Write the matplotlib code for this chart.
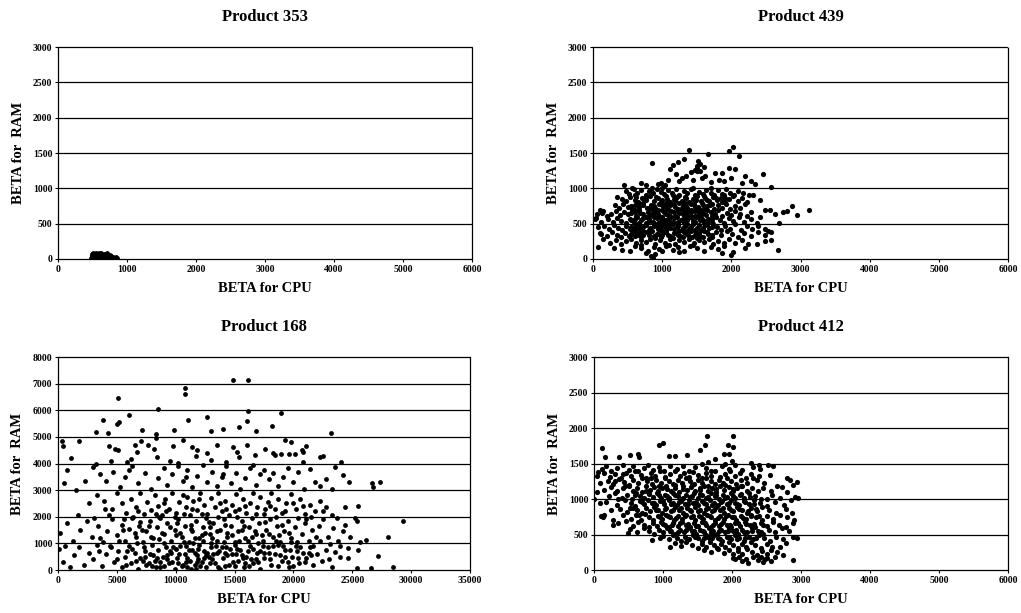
import matplotlib.pyplot as plt
from matplotlib.ticker import MultipleLocator

plt.rcParams['font.family'] = ['Liberation Serif', 'DejaVu Serif']

# points (BETA for CPU, BETA for RAM)
p353_pts = [(480,20),(490,60),(500,40),(510,80),(520,10),(530,55),(540,30),(550,85),(560,15),
            (570,65),(580,40),(590,75),(600,20),(610,50),(620,85),(630,30),(640,60),(650,10),
            (660,75),(670,45),(680,20),(690,65),(700,35),(710,80),(720,15),(730,50),(740,25),
            (750,60),(760,10),(770,40),(780,20),(800,35),(820,15),(840,25),(860,10),(500,70),
            (560,50),(620,45),(680,55),(600,90),(540,70)]

p439_pts = [
    (452,1050),(560,1010),(760,1045),(940,1062),(1040,1050),(1110,1270),(1160,1330),(1200,1200),
    (1235,1378),(1280,1150),(1320,1415),(1390,1540),(1410,1230),(1450,1120),(1500,1310),(1520,1380),
    (1550,1240),(1580,1150),(1620,1170),(1660,1485),(1700,1090),(1760,1215),(1860,1215),(1900,1100),
    (1960,1285),(1970,1530),(2030,1590),(2055,1270),(2105,1460),(2200,1180),(2290,1110),(2340,1060),
    (2460,1200),(2580,1020),(860,1365),(1080,1120),(1350,1180),(1470,1260),(1600,1300),(1820,1120),
    (2000,1150),(2150,1080),(1240,1100),(980,1080),(700,1080),(1540,1350),(1510,1290),(1500,1250),
    (470,960),(520,920),(590,990),(640,940),(700,975),(760,905),(810,965),(870,930),(920,990),
    (980,945),(1030,915),(1090,975),(1140,935),(1200,995),(1250,910),(1310,960),(1360,930),
    (1420,985),(1480,905),(1530,955),(1590,925),(1640,980),(1700,940),(1750,900),(1810,970),
    (1860,920),(1920,985),(1980,940),(2040,905),(2100,960),(2170,930),(2250,910),(2320,900),
    (600,905),(1000,1000),(1450,1000),(1900,900),(1160,900),(1700,1000),(850,1000),
    (420,850),(480,820),(540,880),(600,840),(650,810),(710,870),(770,830),(830,890),(880,815),
    (940,860),(1000,830),(1060,885),(1110,810),(1170,850),(1230,890),(1280,825),(1340,865),
    (1390,805),(1450,850),(1510,890),(1560,820),(1620,860),(1680,815),(1730,880),(1790,835),
    (1850,870),(1910,810),(1970,855),(2030,890),(2090,820),(2160,860),(2230,800),(2420,840),
    (350,880),(1300,800),(1200,870),(990,805),(760,880),(1600,895),(1860,800),
    (320,760),(380,720),(440,780),(500,740),(560,705),(610,770),(670,735),(730,790),(780,715),
    (840,760),(900,725),(950,785),(1010,745),(1070,710),(1120,770),(1180,730),(1240,790),
    (1290,715),(1350,755),(1410,700),(1460,775),(1520,735),(1580,790),(1630,720),(1690,765),
    (1750,705),(1800,760),(1860,725),(1920,780),(1980,710),(2050,755),(2120,720),(2200,775),
    (2490,700),(2560,700),(2740,665),(2810,686),(2870,747),(3120,700),(150,686),(100,700),
    (130,650),(1050,790),(1550,700),(860,705),(1330,790),
    (260,640),(330,680),(390,620),(450,665),(510,630),(570,690),(620,615),(680,655),(740,605),
    (790,670),(850,630),(910,690),(960,615),(1020,660),(1080,625),(1130,685),(1190,610),
    (1250,650),(1300,695),(1360,625),(1420,670),(1470,605),(1530,645),(1590,690),(1640,620),
    (1700,665),(1760,630),(1810,690),(1870,610),(1930,655),(1990,625),(2060,680),(2130,640),
    (2220,610),(2290,660),(2630,630),(2950,616),(60,640),(200,610),(1100,700),(1560,600),
    (880,680),(1330,610),
    (220,560),(290,520),(350,580),(410,540),(470,510),(530,570),(590,530),(640,590),(700,545),
    (760,505),(810,565),(870,525),(930,585),(980,540),(1040,505),(1100,570),(1150,530),
    (1210,590),(1270,545),(1320,510),(1380,575),(1440,535),(1490,595),(1550,550),(1610,510),
    (1660,570),(1720,530),(1780,590),(1840,550),(1900,515),(1960,575),(2030,540),(2110,590),
    (2190,520),(2280,560),(2370,510),(2420,590),(30,560),(40,584),(120,520),(2690,504),
    (1000,600),(1230,500),(760,600),(1650,520),
    (160,460),(230,420),(300,480),(360,440),(420,405),(480,470),(540,430),(600,490),(650,445),
    (710,410),(770,475),(820,435),(880,495),(940,450),(990,415),(1050,480),(1110,440),
    (1160,500),(1220,455),(1280,415),(1330,470),(1390,430),(1450,490),(1500,445),(1560,410),
    (1620,475),(1670,435),(1730,495),(1790,450),(1850,410),(1910,470),(1980,430),(2060,490),
    (2140,410),(2220,460),(2300,420),(2390,470),(2480,430),(2530,400),(100,374),(70,450),
    (1020,500),(1360,400),(600,400),
    (120,360),(200,320),(270,380),(340,340),(400,305),(460,370),(520,330),(580,390),(630,345),
    (690,310),(750,375),(810,335),(860,395),(920,350),(980,315),(1040,380),(1090,340),
    (1150,300),(1210,365),(1260,325),(1320,385),(1380,345),(1430,305),(1490,370),(1550,330),
    (1600,390),(1660,350),(1720,310),(1780,375),(1850,335),(1930,395),(2010,350),(2100,310),
    (2190,370),(2280,330),(2390,385),(2490,340),(2580,383),(1000,400),(700,400),(1250,395),
    (150,280),(240,230),(330,270),(410,210),(480,260),(550,290),(620,225),(690,275),(760,240),
    (830,290),(900,215),(970,265),(1040,230),(1110,280),(1180,215),(1250,265),(1320,240),
    (1390,290),(1460,220),(1530,270),(1600,235),(1670,285),(1740,210),(1810,260),(1890,230),
    (1970,280),(2060,220),(2160,265),(2240,210),(2370,210),(2490,257),(2580,266),(1100,200),
    (700,200),(1500,300),(900,300),
    (77,163),(300,160),(420,130),(535,107),(600,180),(700,150),(800,120),(880,175),(950,140),
    (1050,190),(1150,130),(1230,170),(1320,110),(1400,180),(1500,150),(1600,120),(1700,170),
    (1800,140),(1900,190),(2030,93),(1860,79),(2200,150),(2680,126),(1000,110),(1450,200),
    (1250,100),(896,70),(872,14),(840,40),(2000,60),(760,90),
    (545,755),(605,700),(665,790),(725,760),(815,720),(875,745),(935,700),(995,770),(1055,735),
    (1115,795),(1175,760),(1235,705),(1295,750),(1355,720),(1415,780),(1475,740),(1535,710),
    (1595,760),(1655,745),(1715,785),
    (545,655),(605,660),(665,690),(725,640),(815,610),(875,650),(935,635),(995,695),(1055,640),
    (1115,615),(1175,660),(1235,690),(1295,635),(1355,665),(1415,615),(1475,680),(1535,620),
    (1595,655),(1655,690),(1715,610),
    (545,545),(605,560),(665,515),(725,580),(815,535),(875,590),(935,515),(995,560),(1055,545),
    (1115,510),(1175,585),(1235,525),(1295,560),(1355,545),(1415,595),(1475,520),(1535,580),
    (1595,545),(1655,505),(1715,565),
    (545,455),(605,440),(665,480),(725,455),(815,410),(875,465),(935,420),(995,470),(1055,445),
    (1115,490),(1175,425),(1235,470),(1295,440),(1355,495),(1415,455),(1475,415),(1535,475),
    (1595,440),(1655,490),(1715,455),
    (545,355),(605,330),(665,370),(725,345),(815,385),(875,320),(935,360),(995,340),(1055,395),
    (1115,325),(1175,370),(1235,345),(1295,305),(1355,360),(1415,390),(1475,335),(1535,365),
    (1595,315),(1655,380),(1715,340),
    (625,880),(745,850),(905,875),(1065,845),(1185,815),(1325,880),(1485,840),(1645,835),
    (1775,860),(1915,860)]

p168_pts = [
    (14830,7125),(16160,7125),(10780,6850),(10780,6600),(5065,6475),(8460,6040),(6030,5840),
    (3850,5650),(4980,5500),(5180,5560),(3200,5190),(4270,5160),(7160,5250),(8290,5100),
    (8290,4960),(9880,5250),(11010,5650),(12680,5750),(13000,5225),(14040,5290),(15370,5375),
    (16020,5590),(16160,5960),(16780,5225),(18915,5910),(18150,5400),(23160,5160),
    (370,4840),(450,4660),(1780,4840),(1100,4190),(4360,4660),(4840,4560),(5120,4500),(4500,4090),
    (6540,4690),(7050,4840),(6680,4440),(5830,4060),(6200,4160),(7620,4690),(8180,4560),
    (8380,4250),(9790,4660),(10640,4875),(11350,4625),(11780,4525),(12620,4400),(13470,4710),
    (14890,4625),(15170,4440),(16020,4690),(16730,4310),(15370,4250),(19280,4875),(19770,4790),
    (17580,4560),(18240,4410),(18430,4310),(18920,4340),(19650,4360),(20140,4375),(20700,4525),
    (21070,4660),(20840,4440),(22260,4250),(22540,4275),(24010,4040),(20840,4060),(3200,4000),
    (9500,4100),(13000,4150),(10200,4020),(11700,4300),(14300,4050),
    (735,3750),(540,3250),(2290,3340),(3000,3880),(3600,3600),(4100,3350),(4700,3700),
    (5300,3100),(5700,3500),(6300,3900),(6800,3250),(7400,3650),(7900,3050),(8500,3450),
    (9000,3850),(9300,3200),(9700,3600),(10200,3900),(10600,3350),(11000,3750),(11400,3100),
    (11800,3550),(12300,3950),(12700,3300),(13100,3700),(13500,3150),(13900,3500),(14300,3900),
    (14700,3250),(15100,3650),(15500,3050),(15900,3450),(16300,3850),(16800,3200),(17200,3600),
    (17500,3750),(17900,3400),(18300,3650),(18700,3150),(19100,3500),(19500,3850),(20000,3300),
    (20400,3700),(20900,3050),(21400,3810),(21800,3300),(22300,3150),(22800,3400),(23530,3875),
    (24240,3560),(23300,3050),(24700,3300),(26650,3275),(26730,3125),(27350,3310),(1500,3000),
    (6000,3750),(10900,3500),(14000,3600),(16600,3950),
    (1700,2050),(2600,2500),(3300,2800),(3900,2600),(4600,2300),(5000,2900),(5400,2500),
    (5800,2150),(6200,2650),(6600,2350),(7000,2900),(7300,2100),(7600,2550),(7900,2250),
    (8200,2800),(8500,2400),(8800,2050),(9100,2650),(9400,2300),(9700,2900),(10000,2150),
    (10300,2550),(10600,2800),(10900,2350),(11200,2050),(11500,2600),(11800,2250),(12100,2900),
    (12400,2450),(12700,2100),(13000,2700),(13300,2350),(13600,2900),(13900,2200),(14200,2600),
    (14500,2050),(14800,2450),(15100,2850),(15400,2300),(15700,2650),(16000,2150),(16300,2500),
    (16600,2900),(16900,2350),(17200,2750),(17500,2100),(17800,2550),(18100,2900),(18400,2300),
    (18700,2650),(19000,2150),(19400,2500),(19800,2850),(20200,2300),(20600,2650),(21000,2100),
    (21400,2450),(21800,2200),(22300,2600),(22800,2350),(23300,2050),(23670,1940),(24380,2375),
    (25510,2410),(6400,2000),(9000,2500),(12000,2650),(15000,2200),(18000,2400),(4300,2050),
    (11000,2750),(13800,2500),
    (200,1400),(800,1750),(1300,1100),(1900,1500),(2500,1850),(2900,1250),(3400,1650),
    (3800,1050),(4200,1450),(4600,1900),(5000,1300),(5400,1700),(5700,1100),(6000,1550),
    (6300,1950),(6600,1250),(6900,1650),(7200,1050),(7500,1450),(7800,1850),(8100,1200),
    (8400,1600),(8700,1950),(9000,1350),(9300,1750),(9600,1100),(9900,1500),(10200,1900),
    (10500,1250),(10800,1650),(11100,1050),(11400,1450),(11700,1850),(12000,1200),(12300,1600),
    (12600,1950),(12900,1350),(13200,1750),(13500,1100),(13800,1500),(14100,1900),(14400,1250),
    (14700,1650),(15000,1050),(15300,1450),(15600,1850),(15900,1200),(16200,1600),(16500,1950),
    (16800,1350),(17100,1750),(17400,1100),(17700,1500),(18000,1900),(18300,1250),(18600,1650),
    (18900,1050),(19200,1450),(19500,1850),(19800,1200),(20100,1600),(20400,1950),(20700,1350),
    (21000,1750),(21300,1100),(21600,1500),(21900,1250),(22200,1650),(22500,1900),(22970,1250),
    (23390,1560),(23800,1100),(24200,1450),(24800,1250),(25230,1940),(25380,1850),(26160,1125),
    (25650,1060),(28060,1250),(29280,1840),(3100,1950),(7000,1800),(10000,1300),(12500,1400),
    (14200,1700),(16700,1450),(19000,1700),(5500,1500),(8800,1400),(11600,1200),(17300,1300),
    (20300,1050),
    (100,800),(400,300),(600,900),(1000,100),(1400,550),(1800,850),(2200,200),(2600,650),
    (3000,400),(3300,950),(3700,150),(4100,600),(4500,850),(4800,300),(5100,700),(5400,100),
    (5700,500),(6000,900),(6200,250),(6500,650),(6800,50),(7000,450),(7300,850),(7500,200),
    (7800,600),(8000,950),(8200,350),(8500,750),(8700,100),(8900,500),(9200,850),(9400,250),
    (9600,650),(9900,50),(10100,450),(10400,900),(10600,200),(10800,600),(11000,100),(11200,350),
    (11400,750),(11600,200),(11800,550),(12000,950),(12200,300),(12400,700),(12600,100),
    (12800,500),(13000,850),(13300,250),(13500,650),(13800,50),(14000,450),(14300,850),
    (14500,200),(14800,600),(15000,950),(15300,350),(15500,750),(15800,100),(16000,500),
    (16300,900),(16600,250),(16900,650),(17200,50),(17500,450),(17800,850),(18100,200),
    (18400,600),(18700,950),(19000,350),(19300,750),(19600,100),(19900,500),(20200,900),
    (20500,250),(20800,650),(21100,450),(21400,850),(21700,200),(22000,600),(22400,350),
    (22800,750),(23110,960),(23530,690),(23960,500),(24670,810),(24670,440),(23250,125),
    (25510,750),(27220,525),(28490,125),(26600,60),(25380,60),(9000,150),(10900,300),
    (11300,50),(12100,150),(13100,400),(14200,150),(15900,250),(8300,100),(9700,300),
    (11900,400),(6300,800),(16600,800),(18900,550),(20000,150),(3500,700),(7700,250),
    (6700,1000),(7400,700),(8100,550),(8600,1150),(9300,400),(9800,850),(10300,600),(10700,1050),
    (11100,750),(11500,1000),(11900,800),(12300,1100),(12700,650),(13100,1200),(13400,900),
    (13700,700),(14100,1050),(14600,800),(15100,600),(15400,1100),(15700,450),(16100,1100),
    (16800,400),(17400,900),(17900,650),(18500,1100),(19100,900),(19700,750),(20600,850),
    (21300,650),(7100,1500),(8600,2000),(10100,1750),(11300,1700),(12800,1800),(14400,1400),
    (15800,1650),(17600,1800),(19600,1400),(21100,1900),(9500,700),(10500,150),(11700,50),
    (12900,250),(13600,100),(14900,300),(16200,150),(17000,300),
    (3600,1200),(4400,900),(5200,1100),(5900,700),(6500,1400),(7200,350),(7900,1250),(8400,450),
    (9000,1000),(9500,1600),(10000,800),(10400,1400),(10900,900),(11300,1550),(11800,300),
    (12200,1300),(12600,550),(13000,1000),(13500,1450),(13900,850),(14400,550),(14800,1300),
    (15200,800),(15600,1500),(16100,700),(16500,1250),(17000,1000),(17500,650),(17900,1350),
    (18300,900),(18800,1300),(19300,500),(19800,1050),(20300,700),(21000,300),(21700,900),
    (22300,1100),(23000,400),(24000,900),(24400,1700),
    (4000,2300),(5600,1900),(6800,2200),(7700,1650),(8300,2100),(9200,2200),(9900,2000),
    (10700,2100),(11400,2300),(12200,2100),(12900,1600),(13600,2000),(14300,2300),(15200,2000),
    (15900,2400),(16800,2100),(17600,2300),(18500,2000),(19300,2200),(20000,2500),(20800,2400),
    (21500,2000),(22500,2200),
    (5000,400),(5800,200),(6600,350),(7400,500),(8000,150),(8700,300),(9300,550),(10200,250),
    (11000,450),(11600,650),(12400,450),(13200,600),(14200,650),(15000,150),(15600,550),
    (16400,400),(17200,700),(18000,400),(18700,150),(19500,300),(20400,450),(21500,550)]

p412_pts = [
    (111,1712),(159,1595),(367,1585),(522,1627),(633,1641),(657,1595),(947,1759),(1005,1792),
    (1087,1604),(1174,1604),(1343,1618),(1536,1688),(1609,1759),(1633,1885),(1888,1641),
    (1946,1759),(2010,1885),(2010,1735),(1960,1641),
    (60,1380),(110,1420),(180,1460),(250,1400),(330,1440),(420,1480),(500,1410),(560,1460),
    (640,1390),(720,1440),(780,1480),(860,1410),(940,1450),(1020,1400),(1100,1470),(1200,1420),
    (1290,1460),(1380,1400),(1470,1450),(1560,1490),(1620,1430),(1700,1400),(1850,1460),
    (1960,1420),(2050,1480),(2150,1410),(2300,1450),(2400,1420),(2600,1470),(1650,1520),
    (1750,1560),(1900,1500),(2000,1540),(2275,1510),(2396,1477),(2517,1477),
    (40,1330),(140,1360),(230,1310),(300,1350),(390,1300),(470,1370),(540,1320),(600,1390),
    (680,1340),(750,1300),(820,1370),(890,1330),(960,1390),(1030,1310),(1100,1350),(1170,1390),
    (1240,1320),(1300,1360),(1370,1310),(1430,1380),(1500,1340),(1560,1300),(1620,1370),
    (1690,1330),(1760,1390),(1830,1310),(1900,1350),(1970,1390),(2040,1320),(2110,1360),
    (2200,1300),(2280,1350),(2390,1320),(2550,1340),(2840,1266),(2790,1290),
    (90,1220),(200,1260),(280,1210),(360,1280),(440,1240),(510,1200),(570,1270),(640,1230),
    (700,1290),(770,1250),(840,1210),(900,1270),(970,1230),(1030,1290),(1090,1250),(1150,1210),
    (1210,1270),(1270,1230),(1330,1290),(1390,1250),(1450,1210),(1510,1270),(1570,1230),
    (1630,1290),(1690,1250),(1750,1210),(1810,1270),(1870,1230),(1930,1290),(1990,1250),
    (2060,1210),(2130,1270),(2210,1230),(2300,1290),(2360,1266),(2470,1220),(2720,1172),
    (2890,1196),(2940,1243),
    (150,1130),(250,1170),(330,1110),(420,1150),(500,1190),(560,1120),(620,1160),(690,1100),
    (750,1180),(810,1130),(870,1170),(930,1110),(990,1150),(1050,1190),(1110,1120),(1170,1160),
    (1230,1100),(1290,1180),(1350,1130),(1410,1170),(1470,1110),(1530,1150),(1590,1190),
    (1650,1120),(1710,1160),(1770,1100),(1830,1180),(1890,1130),(1950,1170),(2010,1110),
    (2070,1150),(2140,1190),(2210,1120),(2290,1160),(2370,1110),(2450,1150),(2560,1120),
    (2650,1180),(2800,1100),(40,1102),
    (0,1000),(210,1040),(300,1080),(400,1020),(480,1060),(550,1000),(610,1090),(670,1040),
    (730,1010),(790,1070),(850,1030),(910,1090),(970,1010),(1030,1060),(1090,1020),(1150,1080),
    (1210,1040),(1270,1000),(1330,1060),(1390,1030),(1450,1090),(1510,1010),(1570,1060),
    (1630,1020),(1690,1080),(1750,1040),(1810,1000),(1870,1060),(1930,1030),(1990,1090),
    (2050,1010),(2110,1060),(2180,1020),(2250,1080),(2330,1040),(2420,1000),(2500,994),
    (2580,1060),(2700,1020),(2910,1032),(2960,1010),
    (90,938),(180,960),(340,920),(450,980),(530,940),(600,900),(660,970),(720,930),(780,990),
    (840,950),(900,910),(960,970),(1020,930),(1080,990),(1140,950),(1200,910),(1260,970),
    (1320,930),(1380,990),(1440,950),(1500,910),(1560,970),(1620,930),(1680,990),(1740,950),
    (1800,910),(1860,970),(1920,930),(1980,990),(2040,950),(2100,910),(2170,970),(2240,930),
    (2320,990),(2410,940),(2500,900),(2620,960),(2750,920),(2850,980),
    (140,780),(240,850),(380,860),(480,820),(560,880),(630,840),(690,800),(750,870),(810,830),
    (870,890),(930,850),(990,810),(1050,870),(1110,830),(1170,890),(1230,850),(1290,810),
    (1350,870),(1410,830),(1470,890),(1530,850),(1590,810),(1650,870),(1710,830),(1770,890),
    (1830,850),(1890,810),(1950,870),(2010,830),(2070,890),(2140,850),(2210,810),(2280,870),
    (2360,830),(2440,890),(2530,850),(2640,810),(2780,860),(2870,800),
    (100,760),(280,700),(420,780),(540,720),(610,770),(680,710),(740,790),(800,740),(860,700),
    (920,760),(980,720),(1040,780),(1100,740),(1160,700),(1220,760),(1280,720),(1340,780),
    (1400,740),(1460,700),(1520,760),(1580,720),(1640,780),(1700,740),(1760,700),(1820,760),
    (1880,720),(1940,780),(2000,740),(2060,700),(2130,760),(2200,720),(2270,780),(2350,740),
    (2430,700),(2510,760),(2600,720),(2700,780),(2800,740),(2900,700),(135,750),
    (280,633),(350,660),(460,690),(560,620),(640,680),(720,640),(790,600),(850,660),(910,620),
    (970,680),(1030,640),(1090,600),(1150,660),(1210,620),(1270,680),(1330,640),(1390,600),
    (1450,660),(1510,620),(1570,680),(1630,640),(1690,600),(1750,660),(1810,620),(1870,680),
    (1930,640),(1990,600),(2050,660),(2120,620),(2190,680),(2260,640),(2340,600),(2420,660),
    (2500,620),(2590,680),(2680,640),(2780,600),(2880,660),
    (497,516),(520,580),(620,540),(720,590),(800,550),(870,510),(940,570),(1000,530),(1060,590),
    (1120,550),(1180,510),(1240,570),(1300,530),(1360,590),(1420,550),(1480,510),(1540,570),
    (1600,530),(1660,590),(1720,550),(1780,510),(1840,570),(1900,530),(1960,590),(2020,550),
    (2080,510),(2150,570),(2220,530),(2290,590),(2370,550),(2450,510),(2530,570),(2620,530),
    (2720,590),(2820,550),(1620,500),(1680,480),
    (836,422),(957,446),(1000,480),(1080,430),(1140,490),(1200,450),(1260,410),(1320,470),
    (1380,430),(1440,490),(1500,450),(1560,410),(1620,470),(1680,430),(1740,490),(1800,450),
    (1860,410),(1920,470),(1980,430),(2040,490),(2100,450),(2170,410),(2240,470),(2310,430),
    (2390,490),(2470,450),(2550,410),(2640,470),(2740,430),(2880,469),(2940,450),
    (1101,328),(1180,380),(1260,340),(1340,390),(1420,350),(1500,310),(1560,370),(1620,330),
    (1680,390),(1740,350),(1777,305),(1840,370),(1900,330),(1960,390),(2020,350),(2080,310),
    (2140,370),(2200,330),(2270,390),(2340,350),(2420,310),(2500,370),(2580,330),(2696,328),
    (2780,380),
    (1600,280),(1700,250),(1800,290),(1880,240),(1950,280),(2020,220),(2090,270),(2150,230),
    (2220,290),(2290,250),(2360,210),(2430,270),(2500,230),(2570,280),(2744,211),(2650,250),
    (2019,164),(2100,190),(2150,130),(2236,94),(2300,180),(2380,140),(2454,117),(2500,170),
    (2560,130),(2620,180),(2889,141),(2050,150),(2200,160),(2420,190),(2480,150),
    (935,1190),(1055,1140),(1175,1200),(1295,1135),(1415,1195),(1535,1125),(1655,1185),
    (1775,1145),(1895,1195),(2015,1140),(2135,1180),
    (935,1050),(1055,1040),(1175,1060),(1295,1020),(1415,1045),(1535,1075),(1655,1035),
    (1775,1060),(1895,1015),(2015,1045),(2135,1070),(2255,1030),
    (875,945),(995,975),(1115,935),(1235,960),(1355,925),(1475,960),(1595,945),(1715,915),
    (1835,965),(1955,950),(2075,935),(2195,960),(2315,925),
    (905,840),(1025,860),(1145,845),(1265,880),(1385,850),(1505,835),(1625,855),(1745,840),
    (1865,875),(1985,845),(2105,865),(2225,835),(2345,860),
    (955,745),(1075,760),(1195,730),(1315,755),(1435,765),(1555,740),(1675,755),(1795,730),
    (1915,760),(2035,745),(2155,735),(2275,755),(2395,760),
    (1005,655),(1125,630),(1245,660),(1365,645),(1485,625),(1605,665),(1725,640),(1845,650),
    (1965,630),(2085,665),(2205,645),(2325,655),(2445,640),
    (1095,550),(1215,540),(1335,560),(1455,545),(1575,555),(1695,530),(1815,550),(1935,545),
    (2055,560),(2175,540),(2295,555),(2415,535),
    (1350,440),(1470,460),(1590,445),(1710,455),(1830,440),(1950,460),(2070,440),(2190,455),
    (2350,445),
    (300,1250),(450,1190),(600,1050),(700,960),(350,1000),(520,880),(650,780),(760,1120),
    (420,1350),(820,1300)]

titles = ["Product 353", "Product 439", "Product 168", "Product 412"]
x_max = [6000, 6000, 35000, 6000]
x_step = [1000, 1000, 5000, 1000]
y_max = [3000, 3000, 8000, 3000]
y_step = [500, 500, 1000, 500]
all_pts = [p353_pts, p439_pts, p168_pts, p412_pts]
marker_area = [12, 14, 12, 14]

rects = [[0.0568, 0.5775, 0.4055, 0.3458],
         [0.5808, 0.5775, 0.4065, 0.3458],
         [0.0568, 0.0701, 0.4035, 0.3475],
         [0.5818, 0.0701, 0.4055, 0.3475]]

fig = plt.figure(figsize=(10.21, 6.13), dpi=100)

for i in range(4):
    ax = fig.add_axes(rects[i])
    xs = [p[0] for p in all_pts[i]]
    ys = [p[1] for p in all_pts[i]]
    ax.scatter(xs, ys, s=marker_area[i], marker='o', color='black', linewidths=0, zorder=3)
    ax.set_xlim(0, x_max[i])
    ax.set_ylim(0, y_max[i])
    ax.xaxis.set_major_locator(MultipleLocator(x_step[i]))
    ax.yaxis.set_major_locator(MultipleLocator(y_step[i]))
    for y in range(y_step[i], y_max[i], y_step[i]):
        ax.axhline(y, color='black', lw=0.9, zorder=1)
    for sp in ax.spines.values():
        sp.set_linestyle((0, (1, 1)))
        sp.set_linewidth(0.9)
    ax.tick_params(labelsize=7, length=2, width=0.8, direction='out', pad=2)
    for lab in ax.get_xticklabels() + ax.get_yticklabels():
        lab.set_fontweight('bold')
    ax.set_title(titles[i], fontsize=12, fontweight='bold', pad=19)
    ax.set_xlabel('BETA for CPU', fontsize=10.5, fontweight='bold', labelpad=6)
    ax.set_ylabel('BETA for  RAM', fontsize=10.5, fontweight='bold', labelpad=6)

fig.savefig('out.png', dpi=100)
